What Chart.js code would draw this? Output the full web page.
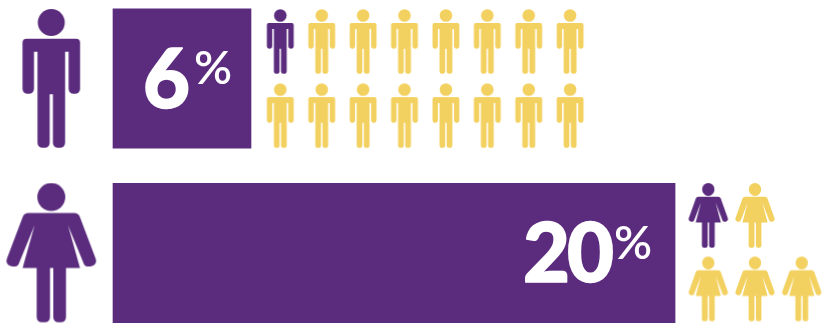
<!DOCTYPE html>
<html>
<head>
<meta charset="utf-8">
<style>
  html, body { margin: 0; padding: 0; background: #ffffff; }
  canvas { display: block; }
</style>
<script src="https://cdn.jsdelivr.net/npm/chart.js@4"></script>
</head>
<body>
<canvas id="chart" width="823" height="324"></canvas>
<script>
// Share of men and women affected, with a pictogram "1 in N" beside each bar.
const categories = ['Men', 'Women'];
const rowIndex = [0, 1];
const rates = [6, 20];

const menMarkedCols = [0];
const menMarkedRows = [0];
const menOtherCols = [1, 2, 3, 4, 5, 6, 7, 0, 1, 2, 3, 4, 5, 6, 7];
const menOtherRows = [0, 0, 0, 0, 0, 0, 0, 1, 1, 1, 1, 1, 1, 1, 1];

const womenMarkedCols = [0];
const womenMarkedRows = [0];
const womenOtherCols = [1, 0, 1, 2];
const womenOtherRows = [0, 1, 1, 1];

const PURPLE = '#5b2c7e';
const YELLOW = '#f3d160';
const W = 823, H = 324;

// Value axis window: bars rise from axisFloor, the axis is broken below it.
const axisFloor = 1.444;

// Maps an index axis onto the full canvas given where index 0 sits and the step size.
function span(origin, step, size) {
  return { min: -origin / step, max: (size - origin) / step };
}

function hiddenAxis(axis, win, reverse) {
  return {
    type: 'linear', axis, display: false, bounds: 'data', offset: false, beginAtZero: false,
    reverse: !!reverse, min: win.min, max: win.max
  };
}

function manPath(c) {
  c.beginPath();
  c.arc(0, 13.4, 13.5, 0, Math.PI * 2);
  c.fill();
  c.beginPath();
  c.roundRect(-28.8, 29.7, 57.6, 13, [4, 4, 0, 0]);
  c.rect(-13.8, 35, 27.6, 50);
  c.roundRect(-28.8, 35, 11.5, 49.7, [0, 0, 5, 5]);
  c.roundRect(17.3, 35, 11.5, 49.7, [0, 0, 5, 5]);
  c.roundRect(-13.8, 70, 12.2, 68.7, [0, 0, 5, 5]);
  c.roundRect(1.6, 70, 12.2, 68.7, [0, 0, 5, 5]);
  c.fill();
}

function womanPath(c) {
  c.beginPath();
  c.arc(0, 13.4, 14, 0, Math.PI * 2);
  c.fill();
  c.beginPath();
  c.moveTo(-23, 29.3);
  c.lineTo(23, 29.3);
  c.quadraticCurveTo(27, 29.3, 28.5, 33);
  c.lineTo(44.6, 75.5);
  c.quadraticCurveTo(46, 81, 40, 82.6);
  c.quadraticCurveTo(34, 83.6, 32.7, 80.5);
  c.lineTo(16.7, 41.7);
  c.lineTo(28.7, 84.3);
  c.lineTo(-28.7, 84.3);
  c.lineTo(-16.7, 41.7);
  c.lineTo(-32.7, 80.5);
  c.quadraticCurveTo(-34, 83.6, -40, 82.6);
  c.quadraticCurveTo(-46, 81, -44.6, 75.5);
  c.lineTo(-28.5, 33);
  c.quadraticCurveTo(-27, 29.3, -23, 29.3);
  c.closePath();
  c.fill();
  c.beginPath();
  c.roundRect(-14.6, 80, 13.3, 58.7, [0, 0, 5, 5]);
  c.roundRect(2, 80, 12.7, 58.7, [0, 0, 5, 5]);
  c.fill();
}

// Renders one figure to a small canvas used as a point style.
function figure(path, colour, halfWidth, sx, sy) {
  const cv = document.createElement('canvas');
  const w = Math.ceil(halfWidth * sx) * 2 + 2;
  const h = Math.ceil(139 * sy) + 2;
  cv.width = w; cv.height = h;
  const c = cv.getContext('2d');
  c.translate(w / 2, h / 2);
  c.scale(sx, sy);
  c.translate(0, -69.35);
  c.fillStyle = colour;
  path(c);
  return cv;
}

function xy(xs, ys) {
  return xs.map((x, i) => ({ x, y: ys[i] }));
}

function icons(label, data, style, xAxisID, yAxisID) {
  return {
    type: 'scatter', label, data: data, xAxisID, yAxisID,
    pointStyle: style, pointRadius: 1, pointHoverRadius: 1, clip: false, showLine: false
  };
}

const SMALL = 0.466;
const WOMAN_NARROW = 0.438;

// Writes each rate inside its bar: a large number with a raised percent sign.
const rateLabels = {
  id: 'rateLabels',
  afterDatasetsDraw(chart) {
    const ctx = chart.ctx;
    const bars = chart.getDatasetMeta(0).data;
    const numberRight = [61, 64];
    const numberSpacing = ['0px', '-3px'];
    const signRight = [19, 23];
    bars.forEach((bar, i) => {
      ctx.save();
      ctx.fillStyle = '#ffffff';
      ctx.strokeStyle = '#ffffff';
      ctx.lineWidth = 1.5;
      ctx.lineJoin = 'round';
      ctx.textAlign = 'right';
      ctx.textBaseline = 'alphabetic';
      ctx.font = '900 81px Lato';
      ctx.letterSpacing = numberSpacing[i];
      ctx.fillText(String(rates[i]), bar.x - numberRight[i], bar.y + 29);
      ctx.strokeText(String(rates[i]), bar.x - numberRight[i], bar.y + 29);
      ctx.letterSpacing = '0px';
      ctx.font = '600 47px Lato';
      ctx.fillText('%', bar.x - signRight[i], bar.y + 5.5);
      ctx.restore();
    });
  }
};

new Chart(document.getElementById('chart'), {
  type: 'bar',
  data: {
    datasets: [
      {
        type: 'bar', label: 'Rate', indexAxis: 'y', xAxisID: 'x', yAxisID: 'y', grouped: false,
        data: xy(rates, rowIndex), base: axisFloor, backgroundColor: PURPLE,
        barThickness: 139.5, clip: false
      },
      icons('Figures', xy([0, 0], rowIndex), [figure(manPath, PURPLE, 30, 1, 1), figure(womanPath, PURPLE, 47, 1, 1)], 'xFigure', 'y'),
      icons('Men marked', xy(menMarkedCols, menMarkedRows), figure(manPath, PURPLE, 30, SMALL, SMALL), 'xMen', 'yMen'),
      icons('Men other', xy(menOtherCols, menOtherRows), figure(manPath, YELLOW, 30, SMALL, SMALL), 'xMen', 'yMen'),
      icons('Women marked', xy(womenMarkedCols, womenMarkedRows), figure(womanPath, PURPLE, 47, WOMAN_NARROW, SMALL), 'xWomen', 'yWomen'),
      icons('Women other', xy(womenOtherCols, womenOtherRows), figure(womanPath, YELLOW, 47, WOMAN_NARROW, SMALL), 'xWomen', 'yWomen')
    ]
  },
  options: {
    responsive: false,
    animation: false,
    events: [],
    layout: { padding: 0, autoPadding: false },
    plugins: { legend: { display: false }, tooltip: { enabled: false }, title: { display: false } },
    scales: {
      x: hiddenAxis('x', span(69.26, 30.29, W)),
      y: hiddenAxis('y', span(78.5, 174.5, H), true),
      xFigure: hiddenAxis('x', span(51.3, 51.3, W)),
      xMen: hiddenAxis('x', span(280.3, 41.4, W)),
      yMen: hiddenAxis('y', span(41.5, 74.1, H), true),
      xWomen: hiddenAxis('x', span(708.3, 46.7, W)),
      yWomen: hiddenAxis('y', span(215.5, 73.5, H), true)
    }
  },
  plugins: [rateLabels]
});
</script>
</body>
</html>
